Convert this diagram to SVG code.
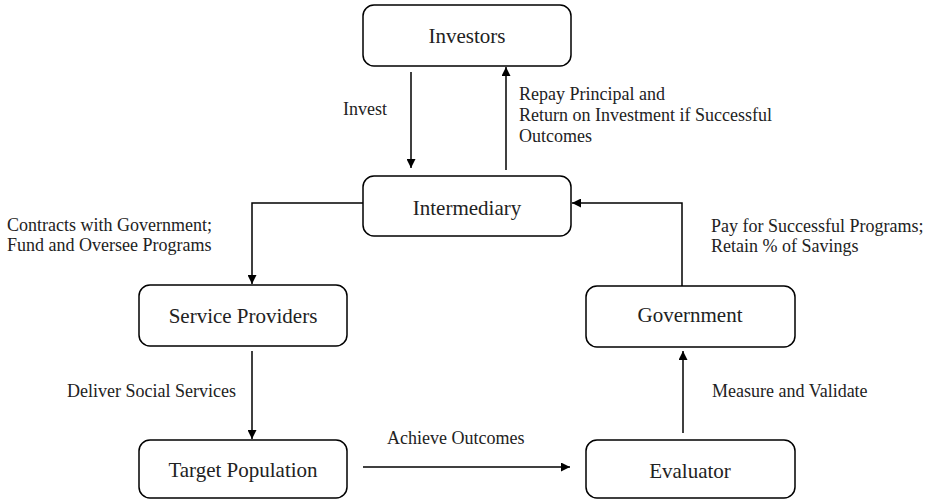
<svg xmlns="http://www.w3.org/2000/svg" width="925" height="500" viewBox="0 0 925 500">
<style>
.box{fill:#fff;stroke:#000;stroke-width:1.5}
.nl{font-family:"Liberation Serif","Times New Roman",serif;font-size:21px;fill:#222;text-anchor:middle}
.el{font-family:"Liberation Serif","Times New Roman",serif;font-size:18px;fill:#222}
.c{fill:none;stroke:#000;stroke-width:1.5}
</style>
<defs>
<marker id="ah" viewBox="0 0 10 10" refX="10" refY="5" markerWidth="9" markerHeight="9" markerUnits="userSpaceOnUse" orient="auto">
<path d="M0,0 L10,5 L0,10 z" fill="#000"/>
</marker>
</defs>
<rect width="925" height="500" fill="#fff"/>
<g id="connectors">
<line class="c" x1="411" y1="72" x2="411" y2="168" marker-end="url(#ah)"/>
<line class="c" x1="506" y1="170" x2="506" y2="67" marker-end="url(#ah)"/>
<polyline class="c" points="682,286 682,203 572,203" marker-end="url(#ah)"/>
<polyline class="c" points="363,203 252,203 252,284" marker-end="url(#ah)"/>
<line class="c" x1="252" y1="351" x2="252" y2="439" marker-end="url(#ah)"/>
<line class="c" x1="363" y1="467" x2="570" y2="467" marker-end="url(#ah)"/>
<line class="c" x1="683" y1="433" x2="683" y2="351" marker-end="url(#ah)"/>
<text class="el" x="343" y="115">Invest</text>
<text class="el" x="519" y="100">Repay Principal and</text>
<text class="el" x="519" y="121">Return on Investment if Successful</text>
<text class="el" x="519" y="142">Outcomes</text>
<text class="el" x="7" y="231">Contracts with Government;</text>
<text class="el" x="7" y="251">Fund and Oversee Programs</text>
<text class="el" x="711" y="232">Pay for Successful Programs;</text>
<text class="el" x="711" y="252">Retain % of Savings</text>
<text class="el" x="67" y="397">Deliver Social Services</text>
<text class="el" x="712" y="397">Measure and Validate</text>
<text class="el" x="387" y="444">Achieve Outcomes</text>
</g>
<g id="investors"><rect class="box" x="363" y="5" width="208" height="61" rx="11"/><text class="nl" x="467" y="43">Investors</text></g>
<g id="intermediary"><rect class="box" x="363" y="176" width="208" height="60" rx="11"/><text class="nl" x="467" y="215">Intermediary</text></g>
<g id="service-providers"><rect class="box" x="139" y="285" width="208" height="61" rx="11"/><text class="nl" x="243" y="323">Service Providers</text></g>
<g id="target-population"><rect class="box" x="139" y="440" width="208" height="58" rx="11"/><text class="nl" x="243" y="477">Target Population</text></g>
<g id="government"><rect class="box" x="586" y="286" width="209" height="61" rx="11"/><text class="nl" x="690" y="322">Government</text></g>
<g id="evaluator"><rect class="box" x="586" y="440" width="209" height="58" rx="11"/><text class="nl" x="690" y="478">Evaluator</text></g>
</svg>
